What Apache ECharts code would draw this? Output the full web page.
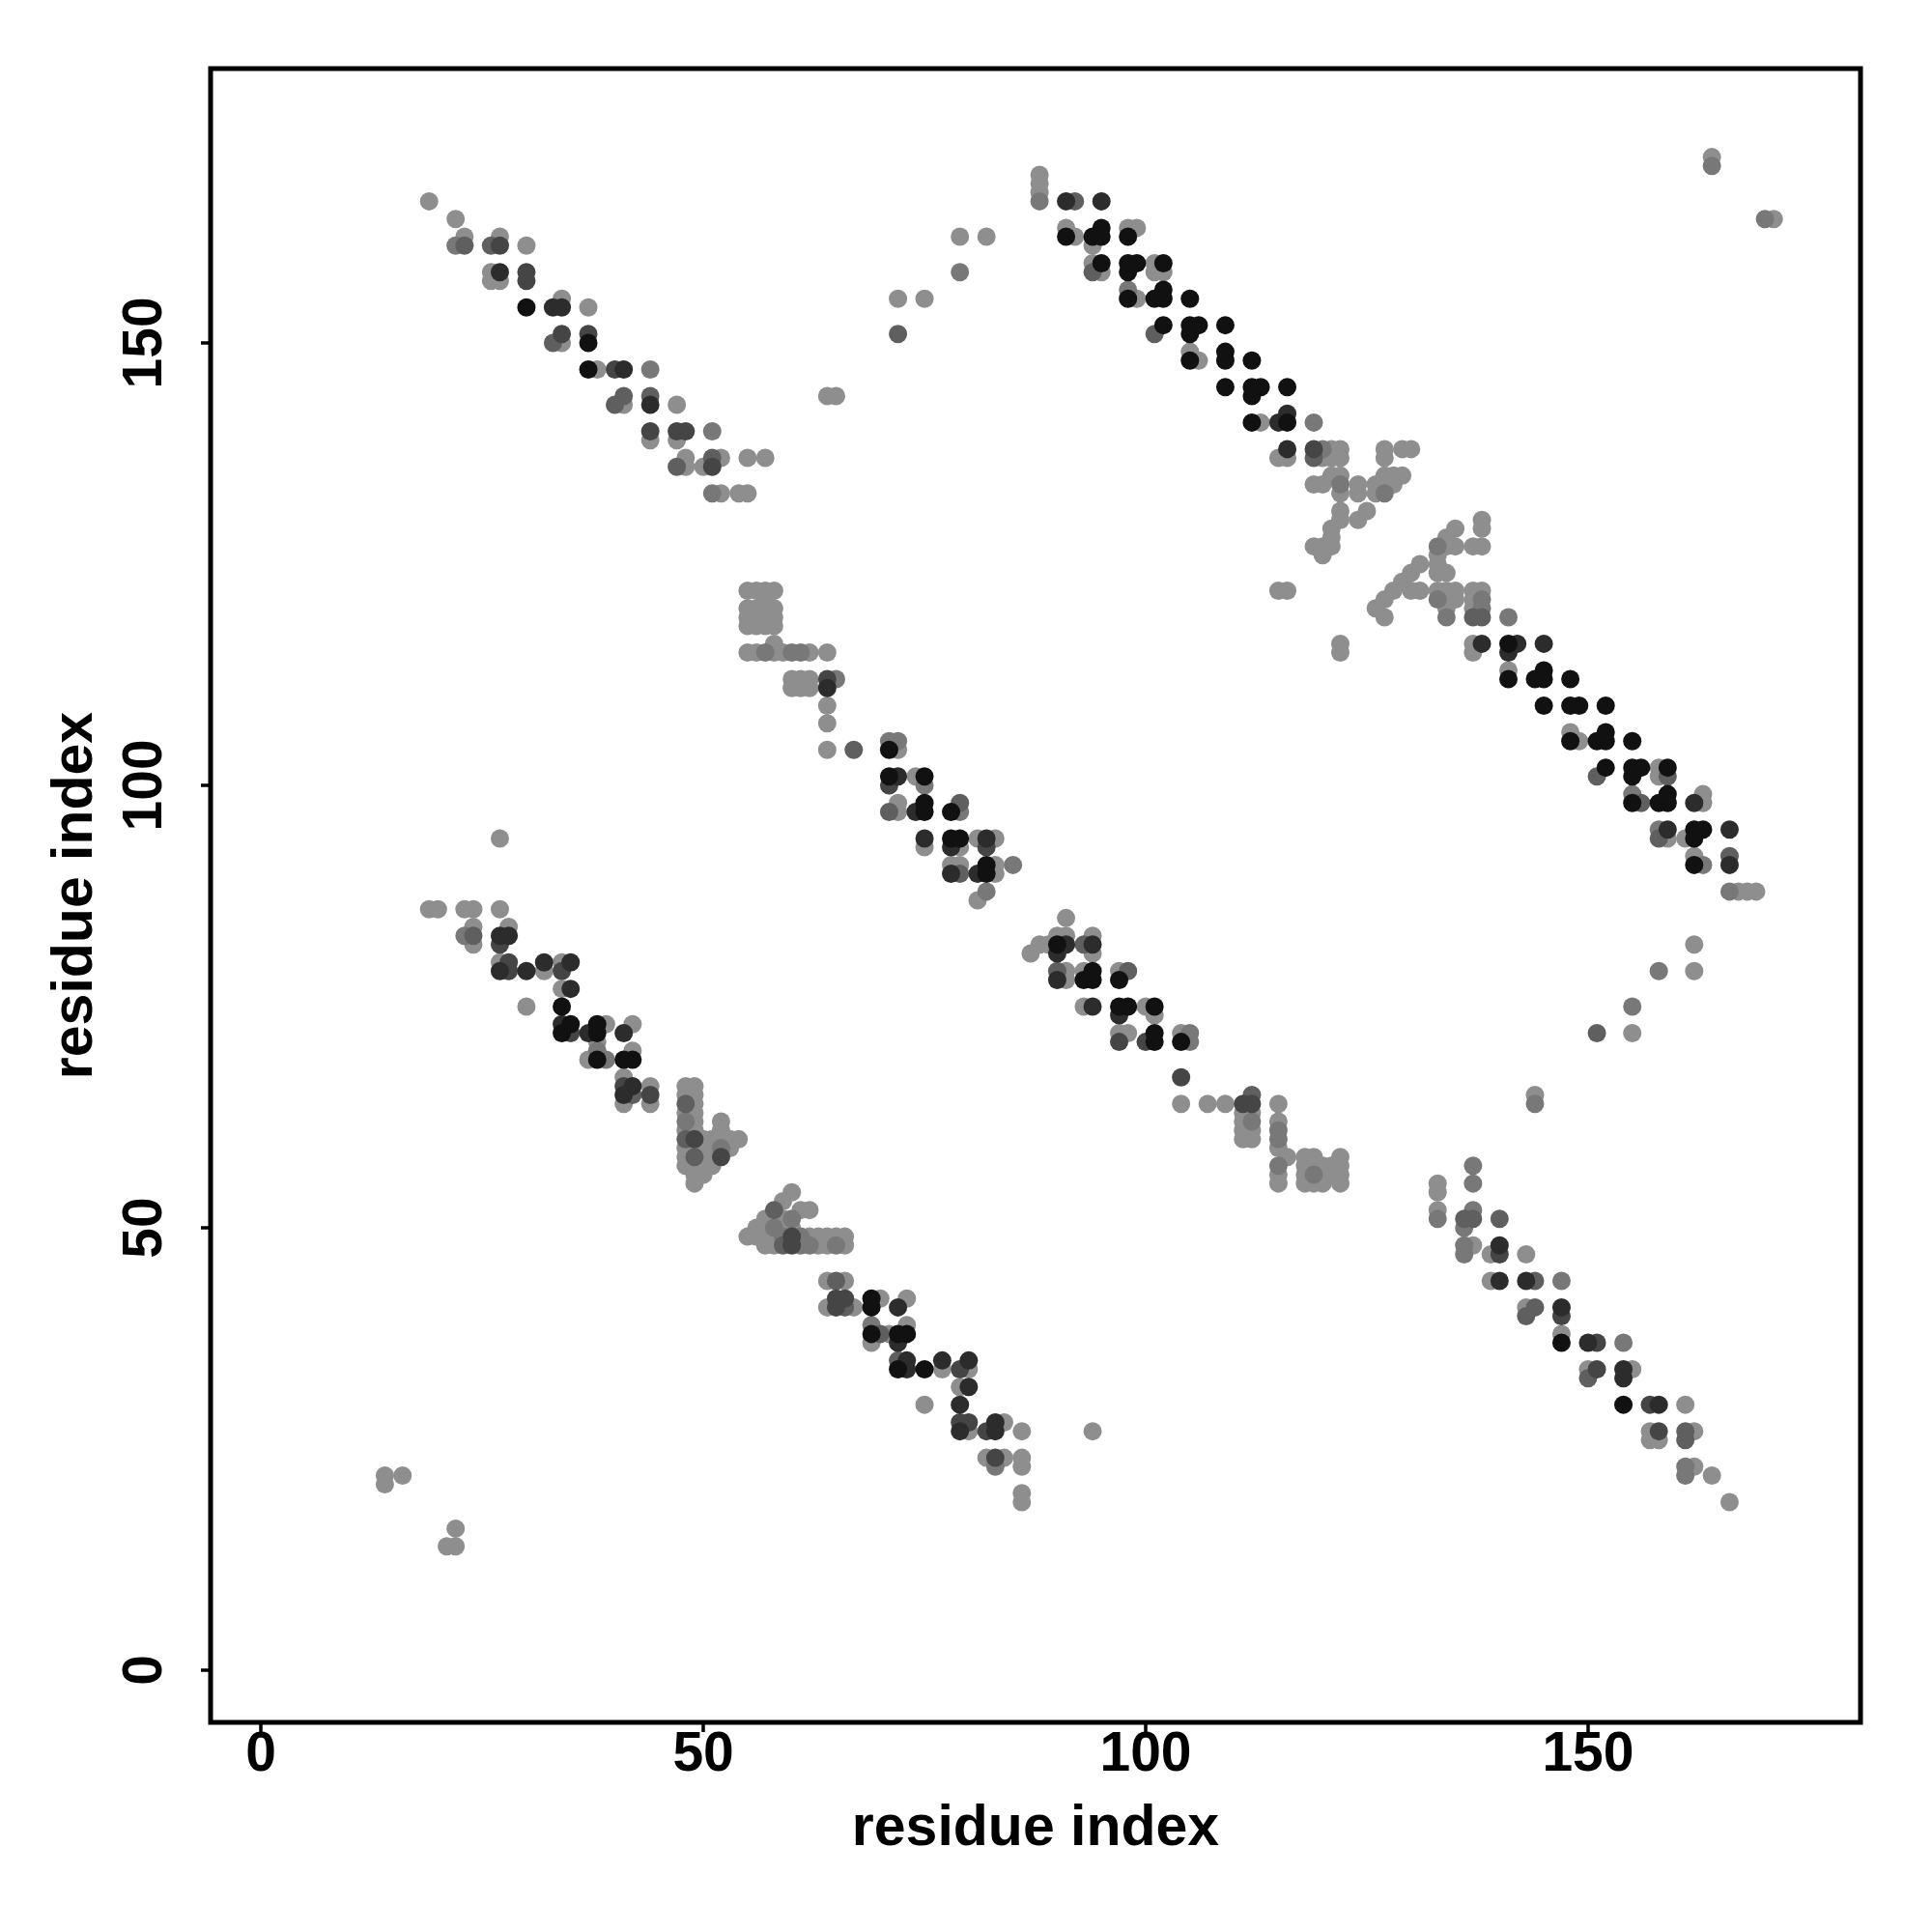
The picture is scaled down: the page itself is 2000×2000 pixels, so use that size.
<!DOCTYPE html>
<html>
<head>
<meta charset="utf-8">
<script src="https://cdn.jsdelivr.net/npm/echarts@6/dist/echarts.min.js"></script>
<style>html,body{margin:0;padding:0;background:#fff}#c{width:2000px;height:2000px}</style>
</head>
<body>
<div id="c"></div>
<script>
// tick labels
const xTicks = [0, 50, 100, 150];
const yTicks = [0, 50, 100, 150];
const axisTitleX = 'residue index';
const axisTitleY = 'residue index';

// contacts grouped by grey level (residue i, residue j)
const lightPts = [
[19,166],[22,164],[23,162],[27,162],[30,161],[26,158],[26,157],[27,157],[34,155],[37,154],[34,150],[38,147],[41,143],[47,143],[44,139],[47,139],[48,137],[48,136],[50,136],[52,137],[55,137],[57,137],[52,133],[54,133],[55,133],[64,144],[65,144],[72,155],[75,155],[79,162],[82,162],
[88,169],[88,168],[88,167],[91,163],[92,162],[94,161],[98,163],[99,163],[94,159],[95,158],[101,159],[101,158],[102,158],[99,155],[105,149],[106,148],[113,141],[115,137],[116,137],[120,137],[121,138],[121,137],[122,138],[122,137],[127,138],[127,137],[129,138],[130,138],[119,134],[120,134],[121,135],[122,135],[122,133],[124,134],[124,133],[126,134],[126,133],[127,135],[128,135],[129,135],[128,134],[122,131],[124,130],[125,131],[122,130],[121,129],[121,128],[120,127],[119,127],[120,126],[121,127],[138,130],[138,129],[135,129],[134,128],[134,127],[135,127],[137,127],[138,127],[131,125],[130,124],[133,126],[133,125],[134,124],[129,123],[128,122],[115,122],[116,122],[164,171],[171,164],
[127,121],[126,120],[127,119],[130,122],[131,122],[133,124],[133,122],[134,122],[135,122],[134,121],[135,121],[134,120],[137,122],[138,122],[137,121],[137,120],[122,116],[122,115],[137,116],[137,115],[141,113],[148,106],[149,105],[158,102],[158,101],[163,99],[163,98],[159,94],[161,94],[162,92],[167,88],[168,88],[169,88],[162,82],
[55,122],[56,122],[57,122],[58,122],[57,121],[55,120],[56,120],[57,120],[58,120],[55,119],[56,119],[57,119],[58,119],[55,118],[56,118],[57,118],[58,118],[58,116],[55,115],[56,115],[58,115],[59,115],[62,115],[64,115],[60,112],[61,112],[62,112],[60,111],[61,111],[62,111],[64,109],[64,107],[64,104],[72,104],[74,101],[72,98],[72,97],[75,93],[79,93],[81,94],[83,94],[78,91],[79,91],[83,91],[83,90],[81,87],[87,81],[88,82],[89,82],[90,83],[91,83],[94,83],[94,81],[91,85],
[91,79],[91,78],[93,79],[97,79],[93,75],[100,75],[101,74],[97,72],[98,72],[104,72],[104,64],[107,64],[109,64],[111,63],[111,62],[111,61],[111,60],[112,63],[112,61],[112,60],[115,64],[115,62],[115,59],[116,58],[115,56],[115,55],[118,58],[119,58],[118,57],[119,57],[120,57],[121,57],[118,56],[120,56],[121,56],[118,55],[119,55],[120,55],[122,58],[122,57],[122,56],[122,55],
[27,94],[19,86],[20,86],[23,86],[24,86],[27,86],[24,84],[24,82],[28,84],[27,80],[32,79],[34,80],[34,77],[30,75],[39,73],[38,71],[37,69],[42,73],[42,70],[41,67],[41,64],[44,66],[44,64],
[48,66],[48,65],[48,63],[48,61],[48,59],[48,58],[48,57],[49,66],[49,65],[49,64],[49,63],[49,62],[49,61],[49,59],[49,57],[49,56],[49,55],[50,60],[51,60],[50,58],[51,59],[51,57],[50,56],[52,62],[52,61],[52,60],[53,60],[54,60],[53,59],
[60,54],[59,53],[62,52],[61,52],[57,51],[58,51],[59,51],[56,50],[57,50],[59,50],[60,50],[55,49],[56,49],[57,49],[58,49],[62,49],[63,49],[64,49],[65,49],[66,49],[57,48],[58,48],[63,48],[64,48],[66,48],
[64,44],[66,44],[64,41],[67,41],[70,42],[73,42],[69,37],[71,38],[73,39],[77,34],[80,34],[79,32],[75,30],[80,27],[84,28],[86,27],[94,27],[82,24],[84,24],[86,24],[86,23],[86,20],[86,19],
[162,79],[155,72],[144,65],[133,55],[133,54],[133,52],[137,48],[139,47],[143,47],[139,44],[143,41],[147,38],[150,34],[155,34],[161,30],[157,27],[157,26],[158,26],[162,27],[162,23],[164,22],[166,19],
[14,22],[14,21],[16,22],[22,16],[21,14],[22,14]
];
const mid1Pts = [
[22,161],[44,147],[51,140],[51,133],[79,158],
[88,166],[98,156],[119,141],[120,138],[122,134],[127,133],[133,127],[164,170],[170,164],
[134,119],[138,121],[138,120],[141,119],[155,99],[163,91],[166,88],[158,95],[133,121],
[57,115],[60,115],[61,115],[65,112],[71,105],[72,105],[75,100],[79,97],[85,91],[82,88],
[105,72],[105,71],[112,62],[115,61],[115,60],[115,57],[119,56],
[23,83],[38,70],[39,69],
[48,62],[52,59],
[60,51],[58,50],[59,49],[61,49],[61,48],[62,48],[65,48],
[69,39],[83,23],
[158,79],[155,75],[144,64],[137,57],[137,55],[133,51],[137,52],[136,50],[136,48],[136,47],[147,44],[154,37],[161,23],[161,22]
];
const mid2Pts = [
[23,161],[26,161],[33,150],[41,144],[40,143],[44,144],[47,136],[51,137],[72,151],
[92,166],[94,158],[101,151],[119,137],
[137,119],[138,119],[151,101],[156,98],[166,92],[159,101],[158,94],
[67,104],[71,97],[79,98],[79,90],
[90,79],[98,79],[93,82],[112,65],
[24,83],[42,65],
[48,64],[48,60],[49,58],
[58,52],[59,48],
[65,44],[66,41],[70,38],[72,35],
[151,72],[136,51],[137,51],[140,51],[144,44],[144,41],[143,40],[150,33],[161,27],[161,26]
];
const dark1Pts = [
[27,161],[30,158],[30,157],[34,151],[37,151],[40,147],[44,140],[47,140],[48,140],[51,136],
[119,138],
[64,112],[71,100],[82,93],
[97,71],[100,71],[104,67],[111,64],[112,64],
[27,82],[28,80],[28,79],[34,79],[35,72],[41,66],[44,65],
[49,60],[52,58],
[60,49],[60,48],
[65,42],[66,42],[65,41],[79,34],[79,28],[80,28],[82,27],[83,24],
[140,47],[147,40],[151,37],[151,34],[157,30],[158,27]
];
const dark2Pts = [
[33,154],[34,154],[41,147],[44,143],[27,158],
[91,166],[95,166],[115,141],[116,142],[116,138],
[138,116],[142,116],[141,115],[145,116],[162,98],[166,95],[159,95],[166,91],
[64,111],[72,101],[74,97],[75,94],[78,93],[82,94],[78,90],[81,90],
[90,81],[91,82],[94,82],[90,78],[94,75],[97,74],
[27,83],[28,83],[27,79],[30,79],[32,80],[35,80],[35,77],[34,73],[37,72],[41,72],[42,66],[41,65],
[72,41],[72,37],[73,35],[73,34],[77,35],[80,35],[80,32],[79,30],[79,27],[83,28],[83,27],
[140,48],[140,44],[143,44],[147,41],[150,37],[154,34],[154,33],[158,30]
];
const blackPts = [
[30,154],[37,150],[37,147],
[91,162],[94,162],[95,163],[95,162],[98,162],[95,159],[98,159],[99,159],[98,158],[102,159],[98,155],[101,155],[102,156],[102,155],[105,155],[102,152],[105,152],[106,152],[105,151],[109,152],[105,148],[109,149],[109,148],[112,148],[109,145],[112,145],[113,145],[112,144],[116,145],[112,141],[116,141],
[141,116],[141,112],[144,112],[145,113],[145,112],[148,112],[145,109],[148,109],[149,109],[152,109],[148,105],[151,105],[152,106],[152,105],[155,105],[152,102],[155,102],[156,102],[155,101],[159,102],[155,98],[158,98],[159,99],[159,98],[162,95],[163,95],[162,94],[162,91],
[71,104],[71,101],[75,101],[75,98],[75,97],[78,97],[78,94],[79,94],[82,91],[82,90],
[90,82],[93,78],[94,79],[94,78],[97,78],[97,75],[98,75],[101,75],[101,72],[101,71],[104,71],
[34,75],[35,73],[34,72],[38,73],[38,72],[38,69],[41,69],[42,69],
[69,42],[69,41],[69,38],[72,38],[73,38],[72,34],[75,34],
[147,37],[154,30]
];

const groups = [
  {name:'light', data: lightPts, color:'#8e8e8e'},
  {name:'mid1', data: mid1Pts, color:'#787878'},
  {name:'mid2', data: mid2Pts, color:'#5f5f5f'},
  {name:'dark1', data: dark1Pts, color:'#454545'},
  {name:'dark2', data: dark2Pts, color:'#2c2c2c'},
  {name:'black', data: blackPts, color:'#111111'}
];

const FONT = 'Liberation Sans, Arial, Helvetica, sans-serif';
const chart = echarts.init(document.getElementById('c'), null, {renderer:'canvas', width:2000, height:2000});
const labelStyle = {fontSize:57, fontWeight:'bold', color:'#000', fontFamily:FONT};
const nameStyle = {fontSize:59, fontWeight:'bold', color:'#000', fontFamily:FONT};
chart.setOption({
  animation:false,
  backgroundColor:'#fff',
  grid:{left:218, right:74, top:71, bottom:217, show:true, borderColor:'#000', borderWidth:5, backgroundColor:'rgba(0,0,0,0)', containLabel:false},
  xAxis:{
    type:'value', min:-5.7, max:180.8, position:'bottom',
    axisLine:{show:false, onZero:false}, splitLine:{show:false},
    axisTick:{show:true, inside:false, length:10, lineStyle:{color:'#000', width:3.5}, customValues:xTicks},
    axisLabel:Object.assign({customValues:xTicks, margin:6}, labelStyle),
    name:axisTitleX, nameLocation:'middle', nameGap:81, nameTextStyle:nameStyle
  },
  yAxis:{
    type:'value', min:-5.9, max:181, position:'left',
    axisLine:{show:false, onZero:false}, splitLine:{show:false},
    axisTick:{show:true, inside:false, length:10, lineStyle:{color:'#000', width:3.5}, customValues:yTicks},
    axisLabel:Object.assign({customValues:yTicks, margin:38, rotate:90}, labelStyle),
    name:axisTitleY, nameLocation:'middle', nameGap:110, nameRotate:90, nameTextStyle:nameStyle
  },
  series: groups.map(g => ({
    type:'scatter', name:g.name, data:g.data, symbol:'circle', symbolSize:19,
    itemStyle:{color:g.color, opacity:1}, silent:true
  }))
});
</script>
</body>
</html>
